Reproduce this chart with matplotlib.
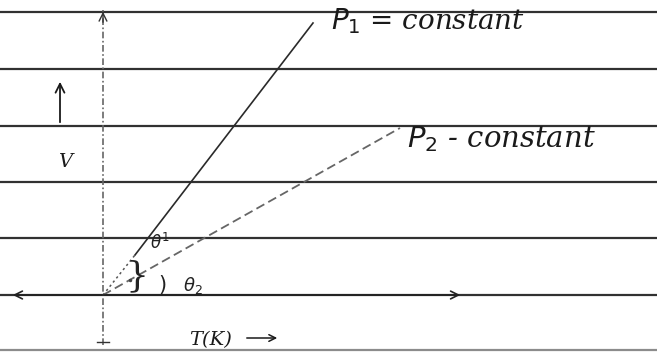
import numpy as np
import matplotlib.pyplot as plt

# Sketch of V against T for two constant pressures (isobars through origin)
ruled_v = [283, 226, 169, 113, 57, 0, -55]      # ruled-paper lines (V units)
t_axis = [-93, 360]                              # horizontal axis extent
v_axis = [-50, 285]                              # vertical axis extent

p1_dotted_t = [0, 32]
p1_dotted_v = [0, 40]
p1_solid_t = [32, 210]
p1_solid_v = [40, 272]

p2_t = [0, 297]
p2_v = [0, 167]

fig = plt.figure(figsize=(6.57, 3.52), dpi=100)
ax = fig.add_axes([0, 0, 1, 1])
ax.set_xlim(-103, 554)
ax.set_ylim(-57, 295)
ax.axis('off')

# ruled paper
for v in ruled_v:
    ax.axhline(v, color='#1a1a1a', lw=1.6, alpha=0.9 if v != -55 else 0.5)

# axes with arrowheads
ax.annotate('', xy=(t_axis[1], 0), xytext=(t_axis[0], 0),
            arrowprops=dict(arrowstyle='<->', color='#222222', lw=1.2,
                            mutation_scale=14))
ax.plot([0, 0], v_axis, color='#666666', lw=1.2, linestyle=(0, (4, 1.5, 1, 1.5)))
ax.annotate('', xy=(0, 286), xytext=(0, 270),
            arrowprops=dict(arrowstyle='->', color='#333333', lw=1.0, mutation_scale=14))
ax.plot([-6, 6], [-47, -47], color='#333333', lw=1.0)

# isobars
ax.plot(p1_dotted_t, p1_dotted_v, color='#555555', lw=1.1, linestyle=(0, (1.5, 2)))
ax.plot(p1_solid_t, p1_solid_v, color='#2a2a2a', lw=1.2)
ax.plot(p2_t, p2_v, color='#666666', lw=1.3, linestyle=(0, (5, 2.5)))

# labels
hand = dict(family='DejaVu Serif', style='italic', color='#1a1a1a')
ax.text(228, 274, r'$P_1$ = constant', fontsize=20, va='center', **hand)
ax.text(304, 156, r'$P_2$ - constant', fontsize=21, va='center', **hand)
ax.text(-38, 133, 'V', fontsize=14, va='center', ha='center', **hand)
ax.annotate('', xy=(-43, 216), xytext=(-43, 170),
            arrowprops=dict(arrowstyle='->', color='#1a1a1a', lw=1.3, mutation_scale=16))
ax.text(86, -45, 'T(K)', fontsize=14, va='center', **hand)
ax.annotate('', xy=(177, -43), xytext=(141, -43),
            arrowprops=dict(arrowstyle='->', color='#1a1a1a', lw=1.1, mutation_scale=12))

# angle marks
ax.text(47, 52, r'$\theta^1$', fontsize=12, va='center', color='#222222')
ax.text(34, 19, '}', fontsize=26, va='center', ha='center', color='#222222', family='DejaVu Serif')
ax.text(59, 10, ')', fontsize=15, va='center', ha='center', color='#222222')
ax.text(80, 10, r'$\theta_2$', fontsize=13, va='center', color='#222222')
ax.plot([27], [15], marker='.', color='#444444', ms=3)

fig.savefig('out.png', dpi=100)
